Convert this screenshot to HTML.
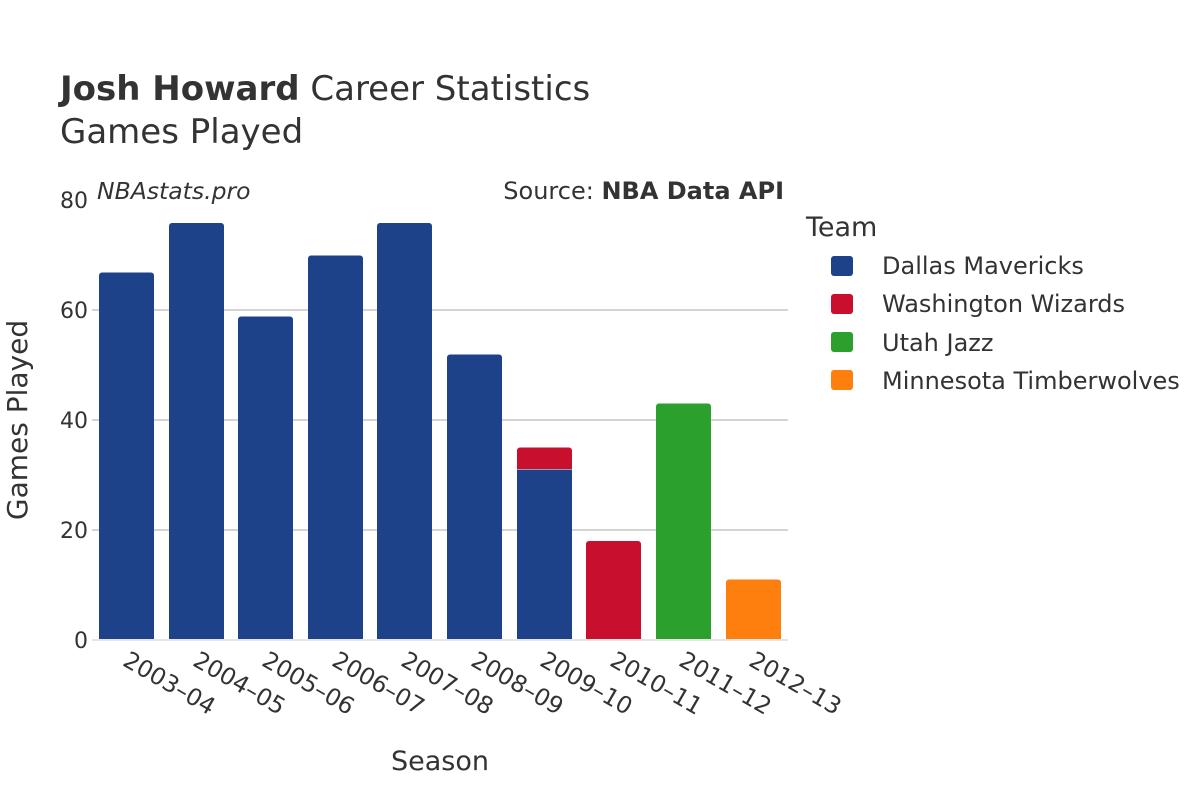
<!DOCTYPE html>
<html><head><meta charset="utf-8"><style>body{margin:0;background:#fff}svg{display:block}text{font-family:"DejaVu Sans","Liberation Sans",sans-serif;fill:#333}</style></head><body>
<svg width="1200" height="800" xmlns="http://www.w3.org/2000/svg">
<text x="60" y="100" font-size="34"><tspan font-weight="bold">Josh Howard</tspan> Career Statistics</text>
<text x="60" y="143" font-size="34">Games Played</text>
<text x="97" y="199" font-size="23.5" font-style="italic">NBAstats.pro</text>
<text x="784" y="199" font-size="24" text-anchor="end">Source: <tspan font-weight="bold">NBA Data API</tspan></text>
<g stroke="#bbb" stroke-width="1.3">
<line x1="92" x2="788" y1="530" y2="530"/><line x1="92" x2="788" y1="420" y2="420"/><line x1="92" x2="788" y1="310" y2="310"/>
</g>
<g font-size="22" text-anchor="end">
<text x="88" y="648">0</text><text x="88" y="538">20</text><text x="88" y="428">40</text><text x="88" y="318">60</text><text x="88" y="208">80</text>
</g>
<g fill="#1d428a">
<path d="M99,640V275.5a3,3 0 0 1 3,-3h49a3,3 0 0 1 3,3V640z"/>
<path d="M169,640V226a3,3 0 0 1 3,-3h49a3,3 0 0 1 3,3V640z"/>
<path d="M238,640V319.5a3,3 0 0 1 3,-3h49a3,3 0 0 1 3,3V640z"/>
<path d="M308,640V258.5a3,3 0 0 1 3,-3h49a3,3 0 0 1 3,3V640z"/>
<path d="M377,640V226a3,3 0 0 1 3,-3h49a3,3 0 0 1 3,3V640z"/>
<path d="M447,640V357.5a3,3 0 0 1 3,-3h49a3,3 0 0 1 3,3V640z"/>
<rect x="517" y="469.5" width="55" height="170.5"/>
</g>
<path fill="#c8102e" d="M517,469V450.5a3,3 0 0 1 3,-3h49a3,3 0 0 1 3,3V469z"/>
<path fill="#c8102e" d="M586,640V544a3,3 0 0 1 3,-3h49a3,3 0 0 1 3,3V640z"/>
<path fill="#2ca02c" d="M656,640V406.5a3,3 0 0 1 3,-3h49a3,3 0 0 1 3,3V640z"/>
<path fill="#ff7f0e" d="M726,640V582.5a3,3 0 0 1 3,-3h49a3,3 0 0 1 3,3V640z"/>
<line x1="92" x2="788" y1="640" y2="640" stroke="#e5e5e5" stroke-width="2"/>
<g font-size="23.5">
<text transform="translate(130,650) rotate(30)" y="17">2003–04</text>
<text transform="translate(200,650) rotate(30)" y="17">2004–05</text>
<text transform="translate(269,650) rotate(30)" y="17">2005–06</text>
<text transform="translate(339,650) rotate(30)" y="17">2006–07</text>
<text transform="translate(408,650) rotate(30)" y="17">2007–08</text>
<text transform="translate(478,650) rotate(30)" y="17">2008–09</text>
<text transform="translate(547,650) rotate(30)" y="17">2009–10</text>
<text transform="translate(617,650) rotate(30)" y="17">2010–11</text>
<text transform="translate(686,650) rotate(30)" y="17">2011–12</text>
<text transform="translate(756,650) rotate(30)" y="17">2012–13</text>
</g>
<text x="440" y="770" font-size="27" text-anchor="middle">Season</text>
<text transform="translate(27,420) rotate(-90)" font-size="28" text-anchor="middle">Games Played</text>
<text x="806" y="236" font-size="27">Team</text>
<g font-size="24">
<rect x="831" y="256" width="22" height="20" rx="3" fill="#1d428a"/><text x="882" y="274">Dallas Mavericks</text>
<rect x="831" y="294" width="22" height="20" rx="3" fill="#c8102e"/><text x="882" y="312">Washington Wizards</text>
<rect x="831" y="332" width="22" height="20" rx="3" fill="#2ca02c"/><text x="882" y="351">Utah Jazz</text>
<rect x="831" y="370" width="22" height="20" rx="3" fill="#ff7f0e"/><text x="882" y="389">Minnesota Timberwolves</text>
</g>
</svg>
</body></html>
